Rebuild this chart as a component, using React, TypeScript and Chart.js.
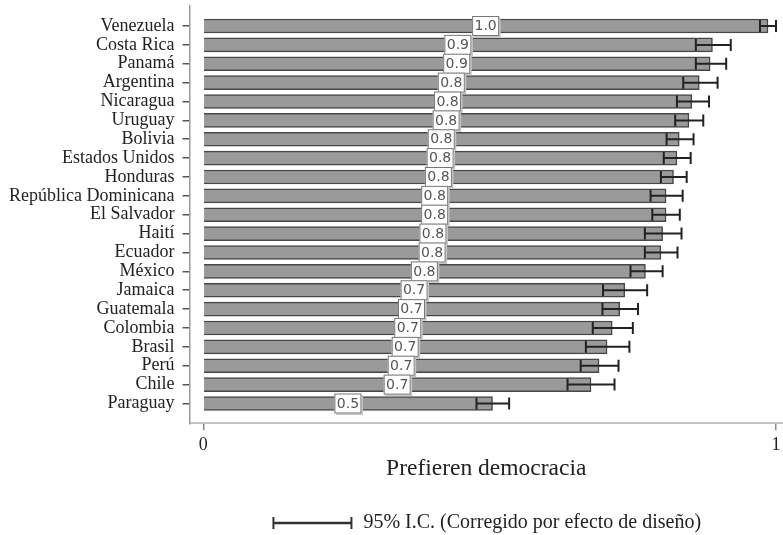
import React, { useEffect, useRef } from "react";
import { Chart, registerables } from "chart.js";

Chart.register(...registerables);

const categories = [
  "Venezuela", "Costa Rica", "Panamá", "Argentina", "Nicaragua", "Uruguay",
  "Bolivia", "Estados Unidos", "Honduras", "República Dominicana", "El Salvador",
  "Haití", "Ecuador", "México", "Jamaica", "Guatemala", "Colombia", "Brasil",
  "Perú", "Chile", "Paraguay",
];
const values = [
  0.986, 0.889, 0.885, 0.866, 0.853, 0.848, 0.831, 0.827, 0.821, 0.808, 0.808,
  0.802, 0.799, 0.772, 0.736, 0.727, 0.714, 0.705, 0.691, 0.677, 0.505,
];
const ciLow = [
  0.972, 0.860, 0.860, 0.838, 0.827, 0.824, 0.809, 0.804, 0.799, 0.781, 0.784,
  0.771, 0.771, 0.746, 0.698, 0.697, 0.680, 0.668, 0.659, 0.636, 0.477,
];
const ciHigh = [
  1.000, 0.921, 0.913, 0.898, 0.883, 0.873, 0.856, 0.851, 0.844, 0.837, 0.832,
  0.835, 0.828, 0.802, 0.775, 0.759, 0.750, 0.744, 0.725, 0.718, 0.534,
];
const valueLabels = [
  "1.0", "0.9", "0.9", "0.8", "0.8", "0.8", "0.8", "0.8", "0.8", "0.8", "0.8",
  "0.8", "0.8", "0.8", "0.7", "0.7", "0.7", "0.7", "0.7", "0.7", "0.5",
];
const xTicks = [0, 1];
const xTitle = "Prefieren democracia";
const legendText = "95% I.C. (Corregido por efecto de diseño)";

const SERIF = "'Liberation Serif', 'Times New Roman', serif";

function makeLegendSymbol(): HTMLCanvasElement {
  const c = document.createElement("canvas");
  c.width = 82;
  c.height = 14;
  const g = c.getContext("2d")!;
  g.strokeStyle = "#333";
  g.lineWidth = 2.5;
  g.beginPath();
  g.moveTo(1, 7);
  g.lineTo(81, 7);
  g.stroke();
  g.lineWidth = 2;
  g.beginPath();
  g.moveTo(2, 1);
  g.lineTo(2, 13);
  g.moveTo(80, 1);
  g.lineTo(80, 13);
  g.stroke();
  return c;
}

const overlayPlugin = {
  id: "ciAndLabels",
  afterDatasetsDraw(chart: any) {
    const { ctx, scales } = chart;
    const xs = scales.x;
    const ys = scales.y;
    ctx.save();
    // error bars
    ctx.strokeStyle = "#222";
    ctx.lineWidth = 2;
    for (let i = 0; i < categories.length; i++) {
      const y = ys.getPixelForValue(i);
      const x1 = xs.getPixelForValue(ciLow[i]);
      const x2 = xs.getPixelForValue(ciHigh[i]);
      ctx.beginPath();
      ctx.moveTo(x1, y);
      ctx.lineTo(x2, y);
      ctx.moveTo(x1, y - 6);
      ctx.lineTo(x1, y + 6);
      ctx.moveTo(x2, y - 6);
      ctx.lineTo(x2, y + 6);
      ctx.stroke();
    }
    // value label boxes
    ctx.font = "14px 'DejaVu Sans', sans-serif";
    ctx.textAlign = "center";
    ctx.textBaseline = "middle";
    for (let i = 0; i < categories.length; i++) {
      const y = ys.getPixelForValue(i);
      const x = xs.getPixelForValue(values[i] / 2);
      const w = 27;
      const h = 20;
      ctx.fillStyle = "#c4c4c4";
      ctx.fillRect(x - w / 2 + 1.5, y - h / 2 + 1.5, w, h);
      ctx.fillStyle = "#ffffff";
      ctx.fillRect(x - w / 2, y - h / 2, w, h);
      ctx.strokeStyle = "#777";
      ctx.lineWidth = 1;
      ctx.strokeRect(x - w / 2 + 0.5, y - h / 2 + 0.5, w - 1, h - 1);
      ctx.fillStyle = "#555";
      ctx.fillText(valueLabels[i], x, y + 0.5);
    }
    ctx.restore();
  },
};

export default function App() {
  const ref = useRef<HTMLCanvasElement | null>(null);
  useEffect(() => {
    document.body.style.margin = "0";
    const canvas = ref.current!;
    const symbol = makeLegendSymbol();
    const chart = new Chart(canvas, {
      type: "bar",
      data: {
        datasets: [
          {
            label: legendText,
            data: values.map((v, i) => ({ x: v, y: i })),
            backgroundColor: "#9a9a9a",
            borderColor: "#474747",
            borderWidth: 1.5,
            barThickness: 14,
          },
        ],
      },
      options: {
        indexAxis: "y",
        animation: false,
        responsive: false,
        devicePixelRatio: 1,
        layout: { padding: { top: 6, right: 0, left: 0, bottom: 0 } },
        scales: {
          x: {
            type: "linear",
            min: -0.0241,
            max: 1.0122,
            offset: false,
            afterBuildTicks: (s: any) => {
              s.ticks = xTicks.map((v) => ({ value: v }));
            },
            afterFit: (s: any) => {
              s.height = 89.7;
              s.paddingLeft = 0;
              s.paddingRight = 0;
            },
            ticks: {
              font: { family: SERIF, size: 18 },
              color: "#222",
              padding: 4,
              callback: (v: any) => String(v),
            },
            grid: {
              display: true,
              offset: false,
              drawOnChartArea: false,
              drawTicks: true,
              tickLength: 7,
              color: "#8a8a8a",
              lineWidth: 1.5,
            },
            border: { display: true, color: "#c4c4c4", width: 2 },
            title: {
              display: true,
              text: xTitle,
              font: { family: SERIF, size: 23.5 },
              color: "#222",
              padding: { top: 0, bottom: 30 },
            },
          },
          y: {
            type: "linear",
            reverse: true,
            offset: false,
            min: -1.06,
            max: 21.05,
            afterBuildTicks: (s: any) => {
              s.ticks = categories.map((_, i) => ({ value: i }));
            },
            afterFit: (s: any) => {
              s.width = 189.5;
              s.paddingTop = 0;
              s.paddingBottom = 0;
            },
            ticks: {
              font: { family: SERIF, size: 18 },
              color: "#222",
              padding: 8,
              autoSkip: false,
              callback: (v: any) => categories[v as number] ?? "",
            },
            grid: {
              display: true,
              offset: false,
              drawOnChartArea: false,
              drawTicks: true,
              tickLength: 7,
              color: "#555",
              lineWidth: 1.5,
            },
            border: { display: true, color: "#9a9a9a", width: 1.5 },
          },
        },
        plugins: {
          legend: {
            display: true,
            position: "bottom",
            fullSize: false,
            maxHeight: 22,
            labels: {
              usePointStyle: true,
              pointStyleWidth: 82,
              padding: 0,
              font: { family: SERIF, size: 20 },
              color: "#222",
              generateLabels: () => [
                {
                  text: legendText,
                  pointStyle: symbol as any,
                  fillStyle: "rgba(0,0,0,0)",
                  strokeStyle: "rgba(0,0,0,0)",
                  lineWidth: 0,
                  hidden: false,
                  datasetIndex: 0,
                  fontColor: "#222",
                } as any,
              ],
            },
          },
          tooltip: { enabled: false },
        },
      } as any,
      plugins: [overlayPlugin],
    });
    return () => chart.destroy();
  }, []);
  return (
    <div style={{ width: 783, height: 535 }}>
      <canvas ref={ref} width={783} height={535} style={{ display: "block" }} />
    </div>
  );
}
